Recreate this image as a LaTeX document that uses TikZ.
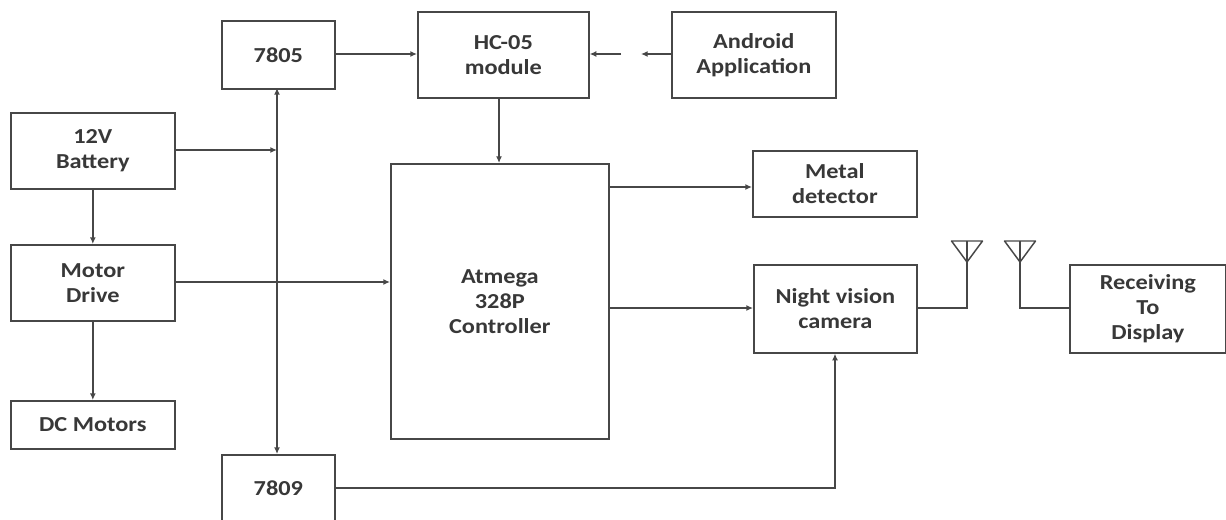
\documentclass[tikz,border=0pt]{standalone}
\usepackage{fontspec}
\setmainfont[FakeStretch=1.14]{Carlito}
\usetikzlibrary{arrows.meta}
\colorlet{inkline}{black!72}
\colorlet{inktext}{black!78}
\tikzset{
  block/.style={draw=inkline, line width=1.25pt, fill=white, anchor=north west, align=center, font=\fontsize{16}{18.7}\selectfont\bfseries, text=inktext, inner sep=0pt},
  link/.style={draw=inkline, line width=1.1pt, -{Latex[length=5pt,width=4.5pt]}},
  wire/.style={draw=inkline, line width=1.1pt}
}
\newcommand{\blockat}[6]{\node[block, minimum width=#4*0.75pt, minimum height=#5*0.75pt] (#1) at (#2*0.75pt,-#3*0.75pt) {#6};}
\begin{document}
\begin{tikzpicture}
  \useasboundingbox (0,0) rectangle (1226*0.75pt,-520*0.75pt);
  \blockat{vfive}{221}{20}{113}{68}{7805}
  \blockat{hc}{417}{11}{171}{86}{HC-05\\module}
  \blockat{android}{671}{11}{164}{86}{Android\\Application}
  \blockat{battery}{10}{112}{164}{76}{12V\\Battery}
  \blockat{drive}{10}{244}{164}{76}{Motor\\Drive}
  \blockat{motors}{10}{400}{164}{48}{DC Motors}
  \blockat{vnine}{221}{454}{113}{66}{7809}
  \blockat{atmega}{390}{163}{218}{275}{Atmega\\328P\\Controller}
  \blockat{metal}{752}{150}{164}{66}{Metal\\detector}
  \blockat{camera}{753}{264}{163}{88}{Night vision\\camera}
  \blockat{display}{1069}{264}{156}{88}{Receiving\\To\\Display}
  % power rail
  \coordinate (railtop) at (277*0.75pt,-88*0.75pt);
  \coordinate (railbot) at (277*0.75pt,-454*0.75pt);
  \draw[link, {Latex[length=5pt,width=4.5pt]}-{Latex[length=5pt,width=4.5pt]}] (railtop) -- (railbot);
  \coordinate (railin) at (277*0.75pt,-150*0.75pt);
  \draw[link] (battery.east |- railin) -- (railin);
  % top row
  \draw[link] (vfive.east |- 0,-54*0.75pt) -- (hc.west |- 0,-54*0.75pt);
  \coordinate (gapa) at (621*0.75pt,-54*0.75pt);
  \coordinate (gapb) at (641*0.75pt,-54*0.75pt);
  \draw[link] (gapa) -- (hc.east |- gapa);
  \draw[link] (android.west |- gapb) -- (gapb);
  \draw[link] (hc.south -| 499*0.75pt,0) -- (atmega.north -| 499*0.75pt,0);
  % left column
  \draw[link] (battery.south) -- (drive.north);
  \draw[link] (drive.south) -- (motors.north);
  \draw[link] (drive.east |- 0,-282*0.75pt) -- (atmega.west |- 0,-282*0.75pt);
  % outputs
  \draw[link] (atmega.east |- 0,-187*0.75pt) -- (metal.west |- 0,-187*0.75pt);
  \draw[link] (atmega.east |- 0,-308*0.75pt) -- (camera.west |- 0,-308*0.75pt);
  \draw[link] (vnine.east |- 0,-488*0.75pt) -| (camera.south -| 835*0.75pt,0);
  % antennas
  \coordinate (anta) at (967*0.75pt,-241*0.75pt);
  \coordinate (antb) at (1020*0.75pt,-241*0.75pt);
  \draw[wire] (camera.east |- 0,-308*0.75pt) -| (anta);
  \draw[wire, line join=round] (anta) ++(-15.5*0.75pt,0) -- ++(31*0.75pt,0) -- ++(-15.5*0.75pt,-21*0.75pt) -- cycle;
  \draw[wire] (display.west |- 0,-308*0.75pt) -| (antb);
  \draw[wire, line join=round] (antb) ++(-15.5*0.75pt,0) -- ++(31*0.75pt,0) -- ++(-15.5*0.75pt,-21*0.75pt) -- cycle;
\end{tikzpicture}
\end{document}
